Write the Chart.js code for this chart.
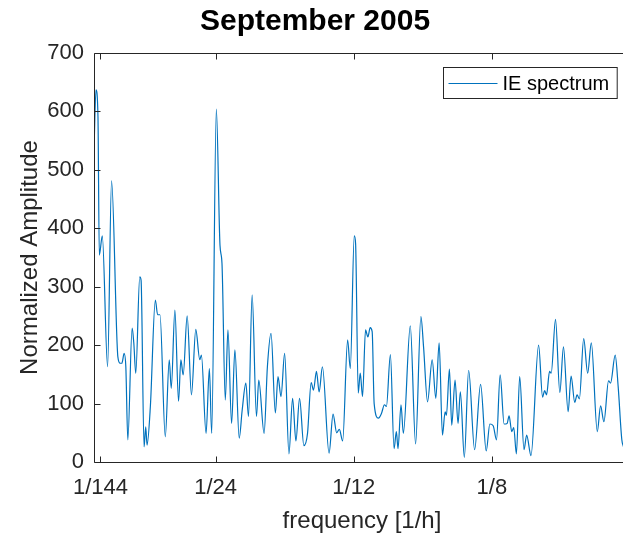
<!DOCTYPE html>
<html>
<head>
<meta charset="utf-8">
<script src="https://cdn.jsdelivr.net/npm/chart.js@4/dist/chart.umd.min.js"></script>
<style>
  html, body { margin: 0; padding: 0; background: #ffffff; overflow: hidden; }
  #wrap { position: relative; width: 630px; height: 533px; }
</style>
</head>
<body>
<div id="wrap"><canvas id="c"></canvas></div>
<script>
// frequency [1/h]
const freq = [0.0050,0.0056,0.0062,0.0066,0.0075,0.0091,0.0103,0.0122,0.0129,0.0134,
  0.0141,0.0146,0.0152,0.0165,0.0170,0.0176,0.0188,0.0192,0.0201,0.0206,
  0.0210,0.0220,0.0235,0.0242,0.0249,0.0265,0.0277,0.0283,0.0294,0.0305,
  0.0312,0.0319,0.0331,0.0344,0.0357,0.0369,0.0374,0.0388,0.0398,0.0405,
  0.0419,0.0430,0.0436,0.0446,0.0454,0.0465,0.0475,0.0488,0.0497,0.0508,
  0.0516,0.0527,0.0540,0.0547,0.0563,0.0573,0.0584,0.0597,0.0605,0.0614,
  0.0625,0.0638,0.0649,0.0659,0.0670,0.0683,0.0694,0.0705,0.0712,0.0721,
  0.0729,0.0739,0.0759,0.0771,0.0782,0.0790,0.0800,0.0815,0.0823,0.0835,
  0.0839,0.0847,0.0853,0.0860,0.0869,0.0876,0.0883,0.0889,0.0895,0.0908,
  0.0917,0.0926,0.0932,0.0944,0.0955,0.0962,0.0967,0.0976,0.0983,0.1004,
  0.1020,0.1036,0.1044,0.1056,0.1070,0.1081,0.1091,0.1101,0.1109,0.1113,
  0.1122,0.1129,0.1139,0.1148,0.1155,0.1167,0.1180,0.1198,0.1216,0.1233,
  0.1244,0.1254,0.1264,0.1275,0.1287,0.1296,0.1302,0.1310,0.1316,0.1324,
  0.1334,0.1347,0.1355,0.1368,0.1391,0.1403,0.1409,0.1415,0.1424,0.1429,
  0.1442,0.1455,0.1466,0.1480,0.1489,0.1500,0.1507,0.1514,0.1527,0.1539,
  0.1550,0.1568,0.1578,0.1588,0.1602,0.1608,0.1622,0.1631,0.1642,0.1647];
// normalized amplitude (IE spectrum)
const amplitude = [534,637,591,354,387,163,481,180,169,169,
  186,163,38,229,204,152,317,311,26,60,
  29,95,277,252,252,43,175,126,260,104,
  175,149,250,115,227,175,183,49,160,49,
  604,371,340,106,226,66,192,41,89,135,
  78,286,78,140,49,163,220,84,146,112,
  186,14,109,36,109,28,49,136,123,155,
  120,163,15,82,50,56,36,209,160,387,
  374,118,152,112,226,214,230,223,100,75,
  83,98,95,184,23,52,23,98,49,233,
  31,249,197,103,175,109,204,46,86,80,
  159,63,140,66,120,8,157,21,133,19,
  65,62,38,149,65,66,79,52,59,14,
  146,21,46,11,200,111,122,115,155,152,
  244,119,197,86,147,102,115,108,211,152,
  204,52,96,69,139,135,183,129,38,26];
const xTickValues = [1/144, 1/24, 1/12, 1/8];
const xTickLabels = ['1/144', '1/24', '1/12', '1/8'];
const seriesName = 'IE spectrum';
const chartTitle = 'September 2005';

const FONT = '"Liberation Sans", Arial, Helvetica, sans-serif';
const INK = '#262626';

const matlabAxes = {
  id: 'matlabAxes',
  afterDatasetsDraw(chart) {
    const { ctx, chartArea: a, scales: { x, y } } = chart;
    const L = 6;
    ctx.save();
    ctx.strokeStyle = INK;
    ctx.lineWidth = 1;
    const l = Math.round(a.left) + 0.5, r = Math.round(a.right) - 0.5;
    const t = Math.round(a.top) + 0.5, b = Math.round(a.bottom) + 0.5;
    ctx.beginPath();
    ctx.moveTo(l, t); ctx.lineTo(r, t); ctx.lineTo(r, b); ctx.lineTo(l, b); ctx.closePath();
    x.ticks.forEach(tk => {
      const px = Math.round(x.getPixelForValue(tk.value)) + 0.5;
      ctx.moveTo(px, b); ctx.lineTo(px, b - L);
      ctx.moveTo(px, t); ctx.lineTo(px, t + L);
    });
    y.ticks.forEach(tk => {
      const py = Math.round(y.getPixelForValue(tk.value)) + 0.5;
      ctx.moveTo(l, py); ctx.lineTo(l + L, py);
      ctx.moveTo(r, py); ctx.lineTo(r - L, py);
    });
    ctx.stroke();

    // legend box
    const ds = chart.data.datasets[0];
    ctx.font = '20px ' + FONT;
    const tw = ctx.measureText(ds.label).width;
    const lineLen = 49, padL = 5, gap = 5, padR = 8, h = 31;
    const w = padL + lineLen + gap + tw + padR;
    const bx = Math.round(a.right - 13 - w) + 0.5;
    const by = Math.round(a.top + 14) + 0.5;
    ctx.fillStyle = '#ffffff';
    ctx.fillRect(bx, by, w, h);
    ctx.strokeStyle = INK;
    ctx.strokeRect(bx, by, w, h);
    ctx.beginPath();
    ctx.strokeStyle = ds.borderColor;
    ctx.lineWidth = 1;
    const ly = Math.round(by + h / 2) + 0.5;
    ctx.moveTo(bx + padL, ly); ctx.lineTo(bx + padL + lineLen, ly);
    ctx.stroke();
    ctx.fillStyle = '#000000';
    ctx.textBaseline = 'middle';
    ctx.textAlign = 'left';
    ctx.fillText(ds.label, bx + padL + lineLen + gap, by + h / 2 + 1);
    ctx.restore();
  }
};

new Chart(document.getElementById('c'), {
  type: 'line',
  data: {
    datasets: [{
      label: seriesName,
      data: freq.map((f, i) => ({ x: f, y: amplitude[i] })),
      borderColor: '#0072BD',
      borderWidth: 1.2,
      pointRadius: 0,
      fill: false,
      cubicInterpolationMode: 'monotone'
    }]
  },
  options: {
    responsive: true,
    maintainAspectRatio: false,
    animation: false,
    layout: { padding: 0 },
    plugins: {
      legend: { display: false },
      tooltip: { enabled: false },
      title: {
        display: true,
        text: chartTitle,
        color: '#000000',
        font: { family: FONT, size: 30, weight: 'bold' },
        padding: { top: 4, bottom: 13 }
      }
    },
    scales: {
      x: {
        type: 'linear',
        min: 0.005,
        max: 1 / 6,
        grid: { display: false, drawTicks: false },
        border: { display: false },
        afterBuildTicks: s => { s.ticks = xTickValues.map(v => ({ value: v })); },
        afterFit: s => { s.height = 71; },
        ticks: {
          autoSkip: false,
          maxRotation: 0,
          padding: 13,
          color: INK,
          font: { family: FONT, size: 22 },
          callback: (v, i) => xTickLabels[i]
        },
        title: {
          display: true,
          text: 'frequency [1/h]',
          color: INK,
          font: { family: FONT, size: 24, lineHeight: 1.0 },
          padding: { top: 0, bottom: 0 }
        }
      },
      y: {
        min: 0,
        max: 700,
        grid: { display: false, drawTicks: false },
        border: { display: false },
        afterFit: s => { s.width = 94; },
        ticks: {
          stepSize: 100,
          padding: 10,
          color: INK,
          font: { family: FONT, size: 22 }
        },
        title: {
          display: true,
          text: 'Normalized Amplitude',
          color: INK,
          font: { family: FONT, size: 24 },
          padding: { top: 16, bottom: 0 }
        }
      }
    }
  },
  plugins: [matlabAxes]
});
</script>
</body>
</html>
